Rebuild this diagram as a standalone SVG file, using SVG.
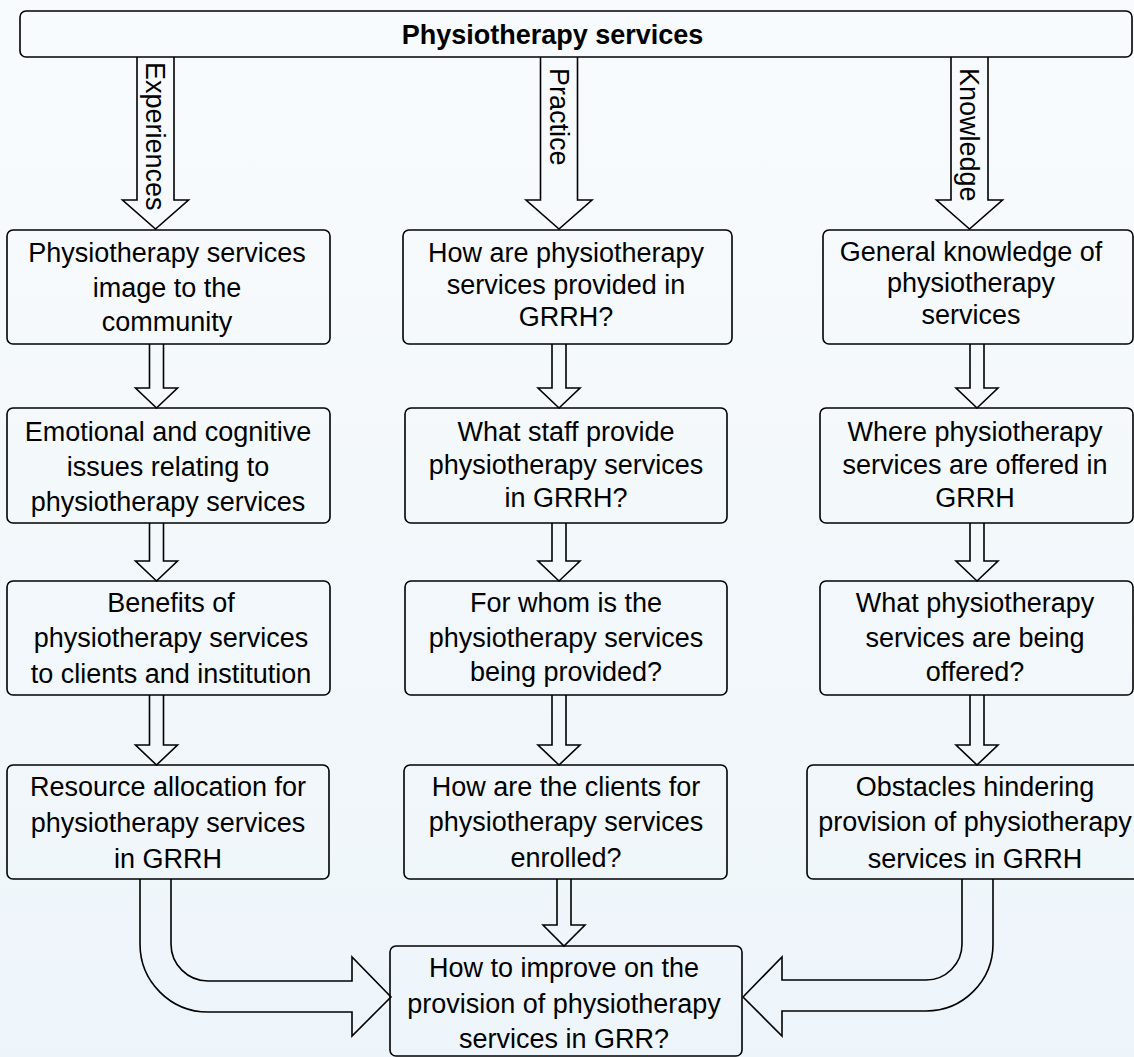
<svg xmlns="http://www.w3.org/2000/svg" width="1134" height="1057" viewBox="0 0 1134 1057">
  <defs>
    <linearGradient id="bg" x1="0" y1="0" x2="0" y2="1">
      <stop offset="0" stop-color="#f8fbfd"/>
      <stop offset="1" stop-color="#eef5fa"/>
    </linearGradient>
    <style>
      .box { fill: none; stroke: #000; stroke-width: 1.6; }
      .arrow { fill: none; stroke: #000; stroke-width: 1.6; stroke-linejoin: miter; }
      .lbl { font-family: "Liberation Sans", Arial, sans-serif; font-size: 27px; fill: #000; text-anchor: middle; }
      .title { font-family: "Liberation Sans", Arial, sans-serif; font-size: 27px; font-weight: bold; fill: #000; text-anchor: middle; }
      .side { font-family: "Liberation Sans", Arial, sans-serif; font-size: 27px; fill: #000; }
    </style>
  </defs>

  <rect width="1134" height="1057" fill="url(#bg)"/>

  <!-- top banner -->
  <g id="services">
    <rect class="box" x="20" y="11" width="1112" height="46" rx="6"/>
    <text class="title" x="552.5" y="44">Physiotherapy services</text>
  </g>

  <!-- block arrows and elbow arrows -->
  <g id="connectors">
    <!-- labelled arrows from the banner -->
    <path class="arrow" d="M137,57 V200 H122.5 L155.5,229 L188.5,200 H174 V57"/>
    <path class="arrow" d="M540.5,57 V200 H526 L559,229 L592,200 H577.5 V57"/>
    <path class="arrow" d="M951,57 V200 H936.5 L969.5,229 L1002.5,200 H988 V57"/>

    <!-- left column -->
    <path class="arrow" d="M149.5,344 V388 H135.5 L156.5,408 L177.5,388 H163.5 V344"/>
    <path class="arrow" d="M149.5,523 V561 H135.5 L156.5,581 L177.5,561 H163.5 V523"/>
    <path class="arrow" d="M149.5,695 V745 H135.5 L156.5,765 L177.5,745 H163.5 V695"/>

    <!-- middle column -->
    <path class="arrow" d="M552,344 V388 H538 L559,408 L580,388 H566 V344"/>
    <path class="arrow" d="M552,523 V561 H538 L559,581 L580,561 H566 V523"/>
    <path class="arrow" d="M552,695 V745 H538 L559,765 L580,745 H566 V695"/>
    <path class="arrow" d="M557,879 V925 H543 L564,946 L585,925 H571 V879"/>

    <!-- right column -->
    <path class="arrow" d="M970,344 V388 H956 L977,408 L998,388 H984 V344"/>
    <path class="arrow" d="M970,523 V561 H956 L977,581 L998,561 H984 V523"/>
    <path class="arrow" d="M970,695 V745 H956 L977,765 L998,745 H984 V695"/>

    <!-- elbow arrows into the final box -->
    <path class="arrow" d="M140,879 V944 A68,68 0 0 0 208,1012 H352 V1036 L391,997 L352,957 V981 H208 A37,37 0 0 1 171,944 V879"/>
    <path class="arrow" d="M993,879 V944 A67,67 0 0 1 926,1011 H782 V1036 L743,997 L782,957 V980 H926 A36,36 0 0 0 962,944 V879"/>
  </g>

  <!-- side labels on the banner arrows -->
  <text class="side" transform="translate(146,62) rotate(90)">Experiences</text>
  <text class="side" transform="translate(549.5,68) rotate(90)">Practice</text>
  <text class="side" transform="translate(960,68) rotate(90)">Knowledge</text>

  <!-- Experiences column -->
  <g id="image">
    <rect class="box" x="7" y="230" width="323" height="114" rx="6"/>
    <text class="lbl"><tspan x="167" y="262">Physiotherapy services</tspan><tspan x="167" y="297">image to the</tspan><tspan x="167" y="331">community</tspan></text>
  </g>
  <g id="emotional">
    <rect class="box" x="7" y="408" width="323" height="115" rx="6"/>
    <text class="lbl"><tspan x="168" y="441">Emotional and cognitive</tspan><tspan x="168" y="476">issues relating to</tspan><tspan x="168" y="511">physiotherapy services</tspan></text>
  </g>
  <g id="benefits">
    <rect class="box" x="7" y="581" width="323" height="114" rx="6"/>
    <text class="lbl"><tspan x="171" y="612">Benefits of</tspan><tspan x="171" y="647">physiotherapy services</tspan><tspan x="171" y="683">to clients and institution</tspan></text>
  </g>
  <g id="resources">
    <rect class="box" x="7" y="765" width="322" height="114" rx="6"/>
    <text class="lbl"><tspan x="168" y="796">Resource allocation for</tspan><tspan x="168" y="832">physiotherapy services</tspan><tspan x="168" y="868">in GRRH</tspan></text>
  </g>

  <!-- Practice column -->
  <g id="how-provided">
    <rect class="box" x="403" y="230" width="329" height="114" rx="6"/>
    <text class="lbl"><tspan x="566" y="262">How are physiotherapy</tspan><tspan x="566" y="294">services provided in</tspan><tspan x="566" y="326">GRRH?</tspan></text>
  </g>
  <g id="staff">
    <rect class="box" x="405" y="408" width="322" height="115" rx="6"/>
    <text class="lbl"><tspan x="566" y="441">What staff provide</tspan><tspan x="566" y="474">physiotherapy services</tspan><tspan x="566" y="507">in GRRH?</tspan></text>
  </g>
  <g id="for-whom">
    <rect class="box" x="405" y="581" width="322" height="114" rx="6"/>
    <text class="lbl"><tspan x="566" y="612">For whom is the</tspan><tspan x="566" y="647">physiotherapy services</tspan><tspan x="566" y="681">being provided?</tspan></text>
  </g>
  <g id="enrolment">
    <rect class="box" x="404" y="765" width="323" height="114" rx="6"/>
    <text class="lbl"><tspan x="566" y="796">How are the clients for</tspan><tspan x="566" y="831">physiotherapy services</tspan><tspan x="566" y="867">enrolled?</tspan></text>
  </g>

  <!-- Knowledge column -->
  <g id="general">
    <rect class="box" x="823" y="230" width="310" height="114" rx="6"/>
    <text class="lbl"><tspan x="971" y="261">General knowledge of</tspan><tspan x="971" y="292">physiotherapy</tspan><tspan x="971" y="324">services</tspan></text>
  </g>
  <g id="where">
    <rect class="box" x="820" y="408" width="313" height="115" rx="6"/>
    <text class="lbl"><tspan x="975" y="441">Where physiotherapy</tspan><tspan x="975" y="474">services are offered in</tspan><tspan x="975" y="507">GRRH</tspan></text>
  </g>
  <g id="what">
    <rect class="box" x="820" y="581" width="313" height="114" rx="6"/>
    <text class="lbl"><tspan x="975" y="612">What physiotherapy</tspan><tspan x="975" y="647">services are being</tspan><tspan x="975" y="681">offered?</tspan></text>
  </g>
  <g id="obstacles">
    <rect class="box" x="807" y="765" width="340" height="114" rx="6"/>
    <text class="lbl"><tspan x="975" y="796">Obstacles hindering</tspan><tspan x="975" y="831">provision of physiotherapy</tspan><tspan x="975" y="868">services in GRRH</tspan></text>
  </g>

  <!-- outcome -->
  <g id="improve">
    <rect class="box" x="390" y="946" width="352" height="110" rx="6"/>
    <text class="lbl"><tspan x="564" y="977">How to improve on the</tspan><tspan x="564" y="1013">provision of physiotherapy</tspan><tspan x="564" y="1048">services in GRR?</tspan></text>
  </g>
</svg>
